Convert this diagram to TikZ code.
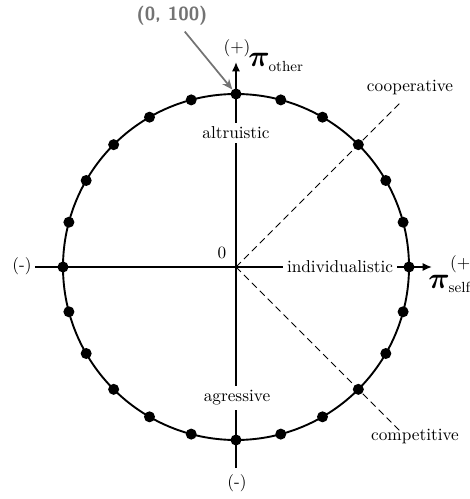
\documentclass[tikz,border=0pt]{standalone}
\usepackage{amsmath,bm}
\usetikzlibrary{arrows.meta,positioning}
\definecolor{PointerGray}{gray}{0.45}

\begin{document}
\begin{tikzpicture}[x=0.58pt,y=0.58pt,
    axis/.style={line width=1pt,-{Latex[length=5.5pt,width=4.8pt]}},
    guide/.style={line width=0.5pt,dash pattern=on 4pt off 2.5pt},
    dot/.style={circle,fill=black,inner sep=0pt,minimum size=6.4pt},
    region/.style={fill=white,inner sep=2.5pt},
    payoff/.style={inner sep=0pt,font=\fontsize{16}{18}\selectfont},
    pointer/.style={PointerGray,line width=1pt,-{Stealth[length=6pt,width=5pt]}}]
  \useasboundingbox (-236,-232) rectangle (234,267);
  \coordinate (o) at (0,0);
  % axes
  \coordinate (xlo) at (-201,0);
  \coordinate (xhi) at (196,0);
  \coordinate (ylo) at (0,-201);
  \coordinate (yhi) at (0,205);
  \draw[line width=1.1pt] (o) circle[radius=173];
  \draw[axis] (xlo) -- (xhi);
  \draw[axis] (ylo) -- (yhi);
  % cooperative / competitive diagonals
  \coordinate (coopend) at (45:235);
  \coordinate (compend) at (-45:234);
  \draw[guide] (o) -- (coopend);
  \draw[guide] (o) -- (compend);
  \foreach \i in {0,...,23} {
    \node[dot] (d\i) at (\i*15:173) {};
  }
  \node[region] (altr) at (0,134) {altruistic};
  \node[region] (aggr) at (1,-131) {agressive};
  \node[region] (indiv) at (104,0) {individualistic};
  \node (zero) at (-14,14) {0};
  \node (coop) at (174,179) {cooperative};
  \node (comp) at (179,-170) {competitive};
  \node (xneg) at (-214,1) {(-)};
  \node (yneg) at (1,-216) {(-)};
  \node (ypos) at (1,219) {(+)};
  \node[anchor=west] (xpos) at (208,3) {(+)};
  \node[payoff,anchor=base west] (piother) at (12,200)
    {$\boldsymbol{\pi}_{\mbox{\fontsize{8.5}{9}\selectfont other}}$};
  \node[payoff,anchor=base west] (piself) at (192,-21)
    {$\boldsymbol{\pi}_{\mbox{\fontsize{8.5}{9}\selectfont self}}$};
  \node[font=\sffamily\bfseries\fontsize{11}{13}\selectfont,text=PointerGray]
    (pt) at (-64,251) {(0, 100)};
  \draw[pointer] (pt) -- (d6);
\end{tikzpicture}
\end{document}
